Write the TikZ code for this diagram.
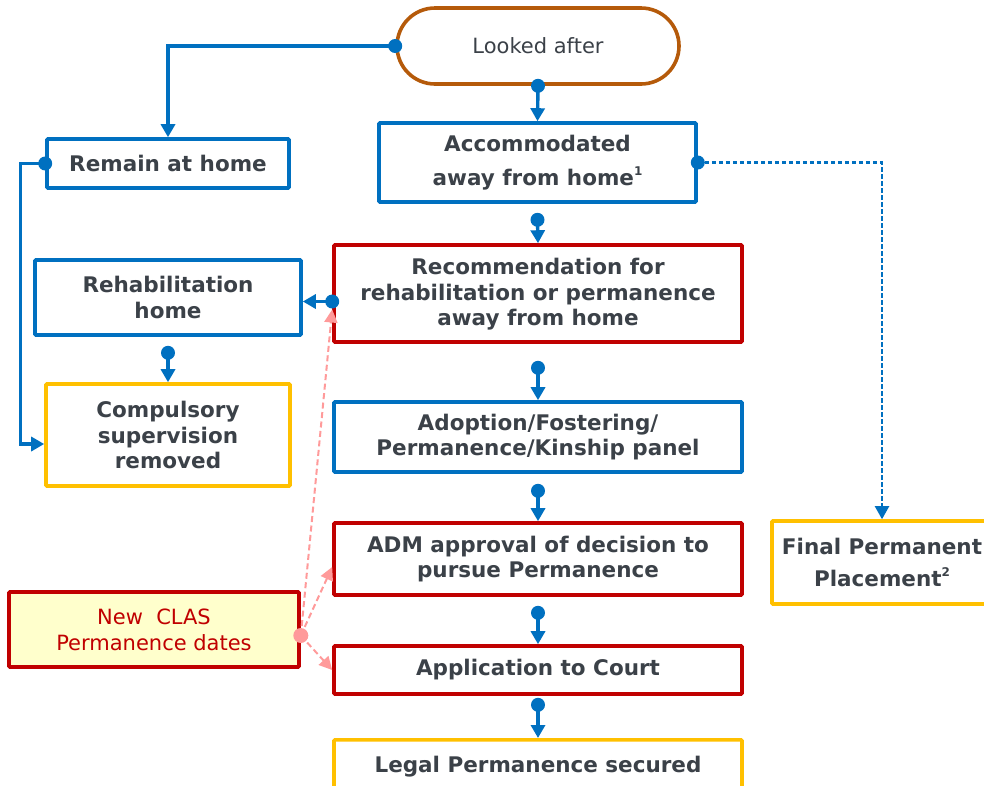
\documentclass[tikz,border=0pt]{standalone}
\usepackage{fontspec}
\setmainfont{DejaVu Sans}
\usetikzlibrary{arrows.meta,calc}
\definecolor{cblue}{HTML}{0070C0}
\definecolor{cred}{HTML}{C00000}
\definecolor{cyellow}{HTML}{FFC000}
\definecolor{cbrown}{HTML}{B55A0A}
\definecolor{cpink}{HTML}{FF9A9A}
\definecolor{clight}{HTML}{FFFFCC}
\definecolor{ctext}{HTML}{3B4148}
\newcommand{\supnum}[1]{\raisebox{10pt}{\fontsize{12}{12}\selectfont #1}}
\begin{document}
\begin{tikzpicture}[x=1pt,y=-1pt,
  box/.style={draw, line width=3.6pt, align=center, text=ctext, rounded corners=1pt,
    font=\fontsize{21.5}{25.5}\selectfont\bfseries, inner sep=0pt},
  bluebox/.style={box, draw=cblue},
  redbox/.style={box, draw=cred},
  yellowbox/.style={box, draw=cyellow},
  conn/.style={cblue, line width=3.4pt, -{Triangle[length=13pt,width=14pt]}},
  dashconn/.style={cblue, line width=2.2pt, dash pattern=on 4.5pt off 2.5pt, -{Triangle[length=13pt,width=14pt]}},
  pinkconn/.style={cpink, line width=2pt, dash pattern=on 6pt off 3.5pt, -{Triangle[length=13pt,width=13pt]}},
  dotmark/.style={fill=cblue}]
\useasboundingbox (0,0) rectangle (984,785);
\clip (0,0) rectangle (984,785);

% nodes
\node[box, draw=cbrown, rounded corners=38pt, minimum width=282pt, minimum height=76pt,
  font=\fontsize{21}{25.5}\selectfont] (la) at (538,46) {Looked after};
\node[bluebox, minimum width=317pt, minimum height=79pt] (acc) at (537.5,162.5)
  {Accommodated\\[8pt]away from home\supnum{1}};
\node[bluebox, minimum width=242pt, minimum height=49pt] (rah) at (168,163.5) {Remain at home};
\node[bluebox, minimum width=266pt, minimum height=75pt] (reh) at (168,297.5) {Rehabilitation\\home};
\node[redbox, minimum width=408pt, minimum height=97pt] (rec) at (538,293.5)
  {\strut Recommendation for\\rehabilitation or permanence\\away from home};
\node[yellowbox, minimum width=244pt, minimum height=102pt] (csr) at (168,435)
  {Compulsory\\supervision\\removed};
\node[bluebox, minimum width=408pt, minimum height=70pt] (ado) at (538,437)
  {Adoption/Fostering/\\Permanence/Kinship panel};
\node[redbox, minimum width=408pt, minimum height=72pt] (adm) at (538,559)
  {ADM approval of decision to\\pursue Permanence};
\node[redbox, minimum width=408pt, minimum height=48pt] (app) at (538,670) {Application to Court};
\node[yellowbox, minimum width=408pt, text height=33pt, text depth=60pt, anchor=north] (leg)
  at (538,738) {Legal Permanence secured};
\node[yellowbox, minimum width=220pt, minimum height=83pt] (fin) at (882,562.5)
  {Final Permanent\\[7pt]Placement\supnum{2}};
\node[box, draw=cred, fill=clight, text=cred, minimum width=290pt, minimum height=75pt,
  font=\fontsize{21}{26}\selectfont] (new) at (154,629.5) {New~~CLAS\\Permanence dates};

% connectors
\draw[conn] (la.west) -| (rah.north);
\fill[dotmark] (la.west) circle (7pt);
\draw[conn] (la.south) -- (acc.north);
\fill[dotmark] (la.south) circle (7pt);
\draw[conn] ([yshift=-16pt]acc.south) -- (rec.north);
\fill[dotmark] ([yshift=-16pt]acc.south) circle (7pt);
\draw[conn] ([yshift=-24pt]rec.south) -- (ado.north);
\fill[dotmark] ([yshift=-24pt]rec.south) circle (7pt);
\draw[conn] ([yshift=-17pt]ado.south) -- (adm.north);
\fill[dotmark] ([yshift=-17pt]ado.south) circle (7pt);
\draw[conn] ([yshift=-16pt]adm.south) -- (app.north);
\fill[dotmark] ([yshift=-16pt]adm.south) circle (7pt);
\draw[conn] ([yshift=-9pt]app.south) -- (leg.north);
\fill[dotmark] ([yshift=-9pt]app.south) circle (7pt);
\draw[dashconn] (acc.east) -| (fin.north);
\fill[dotmark] (acc.east) circle (7pt);
\draw[conn] (rah.west) -- ++(-25,0) |- ([yshift=-9pt]csr.west);
\fill[dotmark] (rah.west) circle (7pt);
\draw[conn] ([yshift=-8pt]rec.west) -- ([yshift=-8pt]rec.west -| reh.east);
\fill[dotmark] ([yshift=-8pt]rec.west) circle (7pt);
\draw[conn] ([yshift=-16pt]reh.south) -- (csr.north);
\fill[dotmark] ([yshift=-16pt]reh.south) circle (7pt);

\coordinate (pd) at ([yshift=-6pt]new.east);
\draw[pinkconn] (pd) -- ([yshift=-16pt]rec.west);
\draw[pinkconn] (pd) -- ([yshift=-8pt]adm.west);
\draw[pinkconn] (pd) -- (app.west);
\fill[cpink] (pd) circle (7.5pt);
\end{tikzpicture}
\end{document}
